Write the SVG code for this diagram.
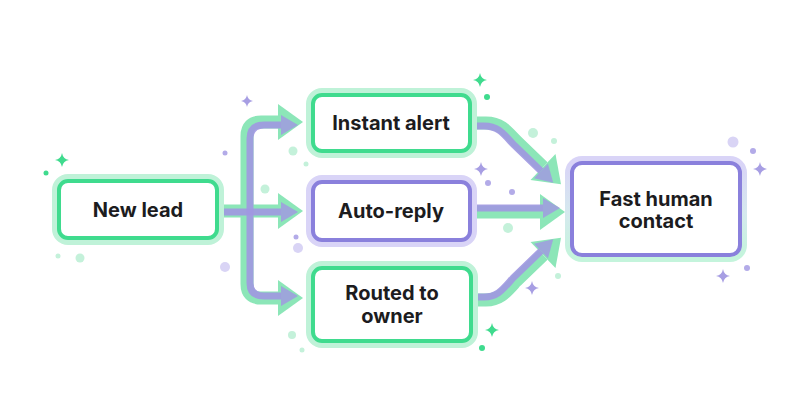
<svg xmlns="http://www.w3.org/2000/svg" xmlns:xlink="http://www.w3.org/1999/xlink" width="800" height="420" viewBox="0 0 800 420">
<style>
.lbl{font-family:Inter,"Liberation Sans",Arial,sans-serif;font-weight:700;font-size:20px;fill:#1c1c1e;text-anchor:middle}
.gglow{fill:none;stroke:#bff2d8;stroke-width:14}
.gline{fill:#fff;stroke:#3fdb8e;stroke-width:4}
.pglow{fill:none;stroke:#d9d4f7;stroke-width:14}
.pline{fill:#fff;stroke:#8a80dc;stroke-width:4}
.gc{fill:none;stroke:#8ce6b8;stroke-width:13;stroke-linejoin:round}
.pc{fill:none;stroke:#a198e2;stroke-width:7;stroke-linejoin:round;opacity:0.9}
.gs{fill:#3fdb8e}.ps{fill:#a79ee3}
.gd{fill:#3fdb8e}.gld{fill:#c4f1da}.pd{fill:#b3abe8}.pld{fill:#d9d4f5}
</style>
<defs>
<marker id="ga" markerUnits="userSpaceOnUse" markerWidth="26" markerHeight="38" refX="0" refY="18" orient="auto" overflow="visible"><polygon points="0,0 25,18 0,36" fill="#8ce6b8"/></marker>
<marker id="pa" markerUnits="userSpaceOnUse" markerWidth="22" markerHeight="28" refX="0" refY="13" orient="auto" overflow="visible"><polygon points="0,3 17,13 0,23" fill="#a198e2" opacity="0.9"/></marker>
<linearGradient id="mixglow" x1="0" y1="0" x2="0" y2="1"><stop offset="0" stop-color="#d9d4f7"/><stop offset="0.55" stop-color="#d5e9ee"/><stop offset="1" stop-color="#c4f4dc"/></linearGradient>
<path id="sp" d="M0,-7 Q1,-1 7,0 Q1,1 0,7 Q-1,1 -7,0 Q-1,-1 0,-7Z"/>
</defs>

<g id="decor">
<use href="#sp" class="gs" transform="translate(62,160)"/>
<circle class="gd" cx="46" cy="173" r="2.5"/>
<circle class="gld" cx="58" cy="256" r="2.5"/>
<circle class="gld" cx="80" cy="258" r="4.5"/>
<use href="#sp" class="ps" transform="translate(247,101) scale(0.85)"/>
<circle class="pd" cx="225" cy="153" r="2.5"/>
<circle class="gld" cx="293" cy="151" r="4.5"/>
<circle class="gld" cx="306" cy="164" r="2.5"/>
<circle class="gld" cx="265" cy="189" r="4.5"/>
<circle class="pd" cx="296" cy="237" r="2.5"/>
<circle class="pld" cx="298" cy="248" r="5"/>
<circle class="pld" cx="225" cy="267" r="5"/>
<circle class="gld" cx="292" cy="335" r="4"/>
<circle class="gld" cx="302" cy="350" r="2.5"/>
<use href="#sp" class="gs" transform="translate(480,80)"/>
<circle class="gd" cx="487" cy="97" r="3"/>
<circle class="gld" cx="533" cy="133" r="5"/>
<circle class="gld" cx="554" cy="141" r="3"/>
<use href="#sp" class="ps" transform="translate(481,169)"/>
<circle class="pd" cx="488" cy="183" r="3"/>
<circle class="pd" cx="512" cy="192" r="3"/>
<circle class="gld" cx="508" cy="228" r="5"/>
<circle class="gld" cx="558" cy="276" r="3"/>
<use href="#sp" class="ps" transform="translate(532,288)"/>
<use href="#sp" class="gs" transform="translate(492,330)"/>
<circle class="gd" cx="482" cy="348" r="3"/>
<circle class="pld" cx="733" cy="142" r="5.5"/>
<circle class="pd" cx="753" cy="151" r="3"/>
<use href="#sp" class="ps" transform="translate(760,169)"/>
<circle class="pd" cx="747" cy="268" r="3"/>
<use href="#sp" class="ps" transform="translate(723,276)"/>
</g>

<g id="connectors">
<path class="gc" d="M215,211 H278" marker-end="url(#ga)"/>
<path class="gc" d="M247,211 V136 Q247,122 261,122 H278" marker-end="url(#ga)"/>
<path class="gc" d="M247,211 V284 Q247,298 261,298 H278" marker-end="url(#ga)"/>
<path class="pc" d="M217,212 H281" marker-end="url(#pa)"/>
<path class="pc" d="M250,212 V139 Q250,125 264,125 H281" marker-end="url(#pa)"/>
<path class="pc" d="M250,212 V283 Q250,296 264,296 H281" marker-end="url(#pa)"/>

<path class="gc" d="M468,123 H486 C500,123 506,130 516,141 L543,167" marker-end="url(#ga)"/>
<path class="gc" d="M468,212 H540" marker-end="url(#ga)"/>
<path class="gc" d="M468,300 H486 C500,300 506,292 516,281 L543,255" marker-end="url(#ga)"/>
<path class="pc" d="M468,126 H484 C498,126 503,133 513,144 L541,171" marker-end="url(#pa)"/>
<path class="pc" d="M468,208 H543" marker-end="url(#pa)"/>
<path class="pc" d="M468,297 H484 C498,297 503,289 513,278 L541,251" marker-end="url(#pa)"/>
</g>

<g id="new-lead">
<rect class="gglow" x="59" y="181" width="158" height="57" rx="9"/>
<rect class="gline" x="59" y="181" width="158" height="57" rx="9"/>
<text class="lbl" x="138" y="217">New lead</text>
</g>

<g id="instant-alert">
<rect class="gglow" x="313" y="95" width="157" height="56" rx="9"/>
<rect class="gline" x="313" y="95" width="157" height="56" rx="9"/>
<text class="lbl" x="391" y="130">Instant alert</text>
</g>

<g id="auto-reply">
<rect class="pglow" x="313" y="182" width="157" height="58" rx="9"/>
<rect class="pline" x="313" y="182" width="157" height="58" rx="9"/>
<text class="lbl" x="391" y="218">Auto-reply</text>
</g>

<g id="routed-to-owner">
<rect class="gglow" x="313" y="268" width="158" height="73" rx="9"/>
<rect class="gline" x="313" y="268" width="158" height="73" rx="9"/>
<text class="lbl" x="392" y="300">Routed to</text>
<text class="lbl" x="392" y="323">owner</text>
</g>

<g id="fast-human-contact">
<rect x="572" y="163" width="168" height="92" rx="10" fill="none" stroke="url(#mixglow)" stroke-width="14"/>
<rect class="pline" x="572" y="163" width="168" height="92" rx="10"/>
<text class="lbl" x="656" y="206">Fast human</text>
<text class="lbl" x="656" y="228">contact</text>
</g>
</svg>
